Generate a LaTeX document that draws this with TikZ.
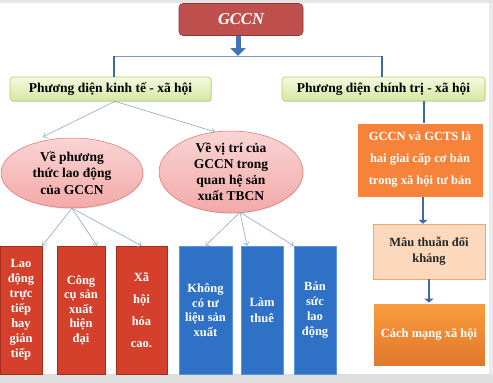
\documentclass[tikz,border=0pt]{standalone}
\usepackage{fontspec}
\setmainfont{Liberation Serif}
\usetikzlibrary{arrows.meta,calc,shapes.geometric,shadows}
\definecolor{gccnred}{HTML}{C0504D}
\definecolor{gccnedge}{HTML}{8C3836}
\definecolor{greentop}{HTML}{F4FADF}
\definecolor{greenbot}{HTML}{D6E8A2}
\definecolor{greenedge}{HTML}{B3CB7C}
\definecolor{pinktop}{HTML}{FAD4D4}
\definecolor{pinkbot}{HTML}{F2A9A8}
\definecolor{pinkedge}{HTML}{D9726F}
\definecolor{boxred}{HTML}{D4402C}
\definecolor{boxrededge}{HTML}{A52B1D}
\definecolor{boxblue}{HTML}{2E71C6}
\definecolor{boxblueedge}{HTML}{5E97D9}
\definecolor{orangefill}{HTML}{F7823A}
\definecolor{orangetop}{HTML}{FA9C3E}
\definecolor{orangebot}{HTML}{E0772C}
\definecolor{peach}{HTML}{FCD9BC}
\definecolor{peachedge}{HTML}{F2A66A}
\definecolor{linkblue}{HTML}{3C69A8}
\definecolor{thinblue}{HTML}{8DA8CF}
\definecolor{blockblue}{HTML}{4174B8}
\begin{document}
\begin{tikzpicture}[x=1pt,y=-1pt,
  gccnbox/.style={rectangle, rounded corners=4pt, fill=gccnred, draw=gccnedge, line width=0.6pt,
    minimum width=124pt, minimum height=32pt, text=white, font=\bfseries\itshape\fontsize{16.5}{18}\selectfont},
  greenbox/.style={rectangle, rounded corners=3pt, top color=greentop, bottom color=greenbot, draw=greenedge,
    line width=0.6pt, minimum height=24pt, font=\bfseries\fontsize{13.5}{16}\selectfont,
    drop shadow={opacity=0.2, shadow xshift=1pt, shadow yshift=-1.2pt}},
  pinkellipse/.style={ellipse, inner sep=0pt, top color=pinktop, bottom color=pinkbot, draw=pinkedge,
    line width=0.5pt, align=center, font=\bfseries\fontsize{13.5}{16.5}\selectfont,
    drop shadow={opacity=0.15, shadow xshift=1pt, shadow yshift=-1.2pt}},
  barbox/.style={rectangle, minimum height=128pt, text=white, inner sep=0pt, align=center,
    font=\bfseries\fontsize{12.5}{15}\selectfont},
  redbar/.style={barbox, fill=boxred, draw=boxrededge, line width=0.5pt},
  bluebar/.style={barbox, fill=boxblue, draw=boxblueedge, line width=0.6pt},
  thinarrow/.style={draw=thinblue, line width=0.6pt, -{Straight Barb[length=3pt,width=5.5pt]}},
  trunk/.style={draw=linkblue, line width=2.6pt},
  bar/.style={draw=thinblue!80!linkblue, line width=0.8pt},
  blockarrow/.style={draw=blockblue, line width=5pt, -{Triangle[length=8pt,width=15pt]}},
  steparrow/.style={draw=linkblue, line width=2.6pt, -{Triangle[length=4pt,width=9pt]}}
]
% page background and the screen strips at top and bottom
\fill[white] (0,0) rectangle (493,383);
\useasboundingbox (0,0) rectangle (493,383);
\fill[black!10] (0,0) rectangle (493,3);
\fill[black!13] (0,374) rectangle (493,383);
\fill[black!8] (489,3) rectangle (493,374);

% top of the hierarchy
\node[gccnbox] (gccn) at (241,19.5) {GCCN};
\coordinate (junction) at (238,56);
\coordinate (jleft) at (114,56);
\coordinate (jright) at (382,56);

\node[greenbox, minimum width=201pt] (eco) at (110.5,89) {Phương diện kinh tế - xã hội};
\node[greenbox, minimum width=203pt] (pol) at (383.5,89) {Phương diện chính trị - xã hội};

\draw[bar] (jleft) -- (jright);
\draw[blockarrow] (gccn.south -| junction) -- (junction);
\draw[trunk] (jleft) -- (jleft |- eco.north);
\draw[trunk] (jright) -- (jright |- pol.north);

% economic side: two aspects
\node[pinkellipse, minimum width=142pt, minimum height=70pt] (e1) at (72,173)
  {Về phương\\thức lao động\\của GCCN};
\node[pinkellipse, minimum width=144pt, minimum height=80pt, font=\bfseries\fontsize{13.5}{16}\selectfont] (e2) at (231,172)
  {Về vị trí của\\GCCN trong\\quan hệ sản\\xuất TBCN};

\coordinate (ecofoot) at ($(eco.south)+(4.5,0)$);
\draw[thinarrow] (ecofoot) -- ($(e1.132)+(0,-4)$);
\draw[thinarrow] (ecofoot) -- (e2.112);

% red bars under the first aspect
\node[redbar, minimum width=42pt] (r1) at (21,310)
  {Lao\\động\\trực\\tiếp\\hay\\gián\\tiếp};
\node[redbar, minimum width=48pt, font=\bfseries\fontsize{12.5}{14.5}\selectfont] (r2) at (81,310)
  {Công\\cụ sản\\xuất\\hiện\\đại};
\node[redbar, minimum width=51pt, font=\bfseries\fontsize{12.5}{22}\selectfont] (r3) at (141.5,310)
  {Xã\\hội\\hóa\\cao.};

\draw[thinarrow] (e1.south) -- (r1.north east);
\draw[thinarrow] (e1.south) -- ($(r2.north)+(16,0)$);
\draw[thinarrow] (e1.south) -- (r3.north);

% blue bars under the second aspect
\node[bluebar, minimum width=53pt, font=\bfseries\fontsize{12.5}{14.5}\selectfont] (b1) at (205.5,310)
  {Không\\có tư\\liệu sản\\xuất};
\node[bluebar, minimum width=42pt, font=\bfseries\fontsize{12.5}{16}\selectfont] (b2) at (262,310)
  {Làm\\thuê};
\node[bluebar, minimum width=42pt] (b3) at (315,310)
  {Bán\\sức\\lao\\động};

\coordinate (e2foot) at ($(e2.south)+(9,-1)$);
\draw[thinarrow] (e2foot) -- (b1.north);
\draw[thinarrow] (e2foot) -- ($(b2.north)+(-15,0)$);
\draw[thinarrow] (e2foot) -- (b3.north west);

% political side: a chain of three boxes
\node[rectangle, fill=orangefill, draw=white, line width=0.8pt, minimum width=126pt, minimum height=74pt,
  text=white, font=\bfseries\fontsize{12.5}{22}\selectfont, align=center,
  drop shadow={opacity=0.2, shadow xshift=1pt, shadow yshift=-1.2pt}] (o1) at (420,160)
  {GCCN và GCTS là\\hai giai cấp cơ bản\\trong xã hội tư bản};
\node[rectangle, fill=peach, draw=peachedge, line width=0.5pt, minimum width=112pt, minimum height=55pt,
  text=black!85, font=\bfseries\fontsize{12.5}{16}\selectfont, align=center,
  drop shadow={opacity=0.15, shadow xshift=1pt, shadow yshift=-1.2pt}] (o2) at (429,251.5)
  {Mâu thuẫn đối\\kháng};
\node[rectangle, top color=orangetop, bottom color=orangebot, draw=white, line width=0.8pt,
  minimum width=112pt, minimum height=63pt, text=white, font=\bfseries\fontsize{12.5}{15}\selectfont,
  drop shadow={opacity=0.2, shadow xshift=1pt, shadow yshift=-1.2pt}] (o3) at (429,334.5)
  {Cách mạng xã hội};

\coordinate (polfoot) at ($(pol.south)+(40.5,0)$);
\draw[trunk] (polfoot) -- (polfoot |- o1.north);
\coordinate (o1foot) at ($(o1.south)+(3,0)$);
\coordinate (o2head) at (o1foot |- o2.north);
\draw[steparrow] (o1foot) -- (o2head);
\draw[steparrow] (o2.south) -- (o3.north);
\end{tikzpicture}
\end{document}
